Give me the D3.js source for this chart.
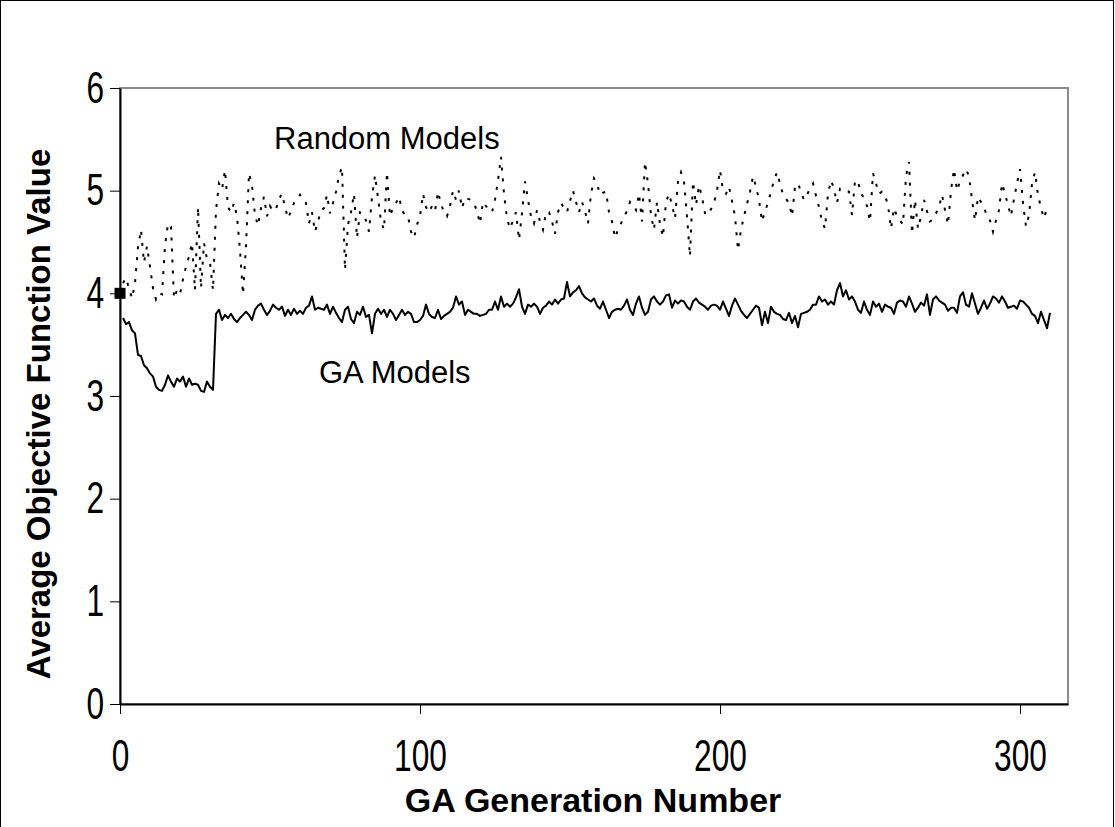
<!DOCTYPE html>
<html>
<head>
<meta charset="utf-8">
<style>
  body { margin: 0; background: #fff; }
  text { font-family: "Liberation Sans", Arial, sans-serif; fill: #000; }
</style>
</head>
<body>
<svg width="1115" height="827"></svg>
<script src="https://d3js.org/d3.v7.min.js"></script>
<script>

    // average objective value per GA generation, gens 1..310
    var gaModels = [
        3.76,3.70,3.72,3.64,3.61,3.40,3.39,3.30,3.27,3.22, 3.19,3.09,3.06,3.05,3.11,3.20,3.14,3.09,3.17,3.14,
        3.19,3.09,3.17,3.11,3.12,3.11,3.05,3.04,3.14,3.09, 3.06,
        3.80,3.84,3.74,3.79,3.76,3.80,3.75,3.72,3.76,3.79, 3.82,3.79,3.74,3.84,3.88,3.90,3.84,3.79,3.83,3.89,
        3.86,3.84,3.87,3.78,3.84,3.79,3.85,3.80,3.83,3.80, 3.86,3.88,3.97,3.84,3.86,3.85,3.84,3.89,3.80,3.87,
        3.81,3.76,3.72,3.84,3.87,3.75,3.71,3.82,3.79,3.87, 3.77,3.79,3.61,3.80,3.85,3.80,3.84,3.77,3.84,3.80,
        3.74,3.79,3.84,3.79,3.82,3.80,3.72,3.72,3.74,3.78, 3.89,3.80,3.77,3.76,
        3.84,3.75,3.78,3.80,3.82,3.86,3.97,3.89,3.92,3.79, 3.84,3.82,3.80,3.80,3.78,3.79,3.80,3.84,3.84,3.92,
        3.84,3.97,3.87,3.90,3.87,3.90,3.96,4.04,3.87,3.80, 3.89,3.87,3.90,3.87,3.80,3.86,3.88,3.92,3.89,3.94,
        3.90,3.94,3.95,4.11,3.97,4.01,4.03,4.07,4.00,3.96, 3.94,3.92,3.95,
        3.88,3.85,3.92,3.84,3.76,3.82,3.84,3.85,3.84,3.88, 3.94,3.84,3.79,3.90,3.97,3.86,3.79,3.82,3.94,3.97,
        3.92,3.89,3.92,3.98,3.99,3.86,3.93,3.90,3.93,3.92, 3.87,3.84,3.92,3.95,3.91,3.89,3.87,3.84,3.88,3.89,
        3.88,3.84,3.92,3.85,3.78,3.88,3.95,3.89,3.83,3.79, 3.76,3.80,3.84,
        3.88,3.86,3.69,3.82,3.71,3.87,3.82,3.80,3.79,3.75, 3.74,3.81,3.71,3.78,3.67,3.80,3.81,3.82,3.84,3.89,
        3.89,3.97,3.92,3.94,3.89,3.92,3.89,4.03,4.10,3.97, 4.03,3.94,3.97,3.92,3.84,3.81,3.92,3.84,3.79,3.92,
        3.87,3.90,3.82,3.89,3.87,3.86,3.80,3.91,3.93,3.92, 3.87,3.97,3.90,3.82,
        3.86,3.91,3.88,3.99,3.79,3.94,3.97,3.93,3.91,3.89, 3.83,3.86,3.86,3.81,3.97,4.01,3.89,3.87,4.00,3.90,
        3.80,3.86,3.93,3.85,3.90,3.97,3.95,3.91,3.97,3.92, 3.86,3.87,3.88,3.85,3.93,3.92,3.89,3.86,3.80,3.78,
        3.71,3.82,3.74,3.66,3.81
    ];

    var randomModels = [
        4.10,4.15,4.05,3.95,4.10,4.45,4.62,4.30,4.46,4.26, 4.05,3.94,4.00,3.99,4.46,4.68,4.65,3.95,4.03,3.99,
        4.14,4.26,4.36,4.49,4.03,4.84,4.05,4.49,4.33,4.30, 4.03,
        4.81,5.07,5.01,5.20,4.84,4.79,4.88,4.75,4.42,3.99, 4.46,5.17,5.05,4.76,4.66,4.83,4.94,4.75,4.85,4.80,
        4.82,4.92,4.97,4.84,4.73,4.80,4.88,4.92,4.96,4.90, 4.88,4.68,4.79,4.60,4.70,4.81,4.83,4.96,4.78,4.88,
        4.99,5.15,5.23,4.23,4.67,4.79,4.97,4.54,4.79,4.78, 4.71,4.60,4.94,5.15,4.93,4.70,4.62,5.18,4.75,4.83,
        4.88,4.94,4.81,4.76,4.75,4.60,4.54,4.67,4.75,4.97, 4.84,4.79,4.85,4.80,
        4.99,4.87,4.79,4.75,4.85,5.00,4.91,5.00,4.83,4.93, 4.92,4.91,4.88,4.80,4.68,4.89,4.85,4.81,4.79,4.91,
        5.10,5.33,4.97,4.73,4.63,4.71,4.79,4.52,4.78,5.09, 4.91,4.75,4.68,4.81,4.70,4.62,4.79,4.79,4.70,4.58,
        4.79,4.88,4.83,4.79,4.90,5.00,4.89,4.79,4.89,4.80, 4.68,4.97,5.12,
        5.07,4.96,4.98,4.99,4.79,4.70,4.54,4.62,4.68,4.75, 4.80,4.89,4.85,4.81,4.97,4.70,5.28,5.07,4.76,4.62,
        4.89,4.67,4.55,4.89,4.97,4.86,4.73,5.09,5.18,5.09, 4.75,4.36,5.09,4.86,5.05,4.94,4.78,4.76,4.82,4.88,
        5.00,5.20,5.00,4.97,5.04,4.90,4.75,4.42,4.62,4.75, 4.87,4.99,5.14,
        5.04,4.91,4.70,4.80,4.88,4.99,5.10,5.18,5.07,4.96, 4.92,4.88,4.75,5.04,5.07,4.99,4.91,4.96,5.02,5.07,
        4.95,4.84,4.70,4.63,4.97,5.10,5.02,4.88,5.02,5.02, 5.00,4.99,4.76,5.10,5.09,4.97,4.93,4.85,4.70,5.17,
        5.07,4.97,4.99,4.95,4.86,4.63,4.83,4.75,4.71,4.67, 5.14,5.28,4.58,4.91,
        4.63,4.75,4.91,4.80,4.70,4.72,4.78,4.84,4.96,4.81, 4.67,5.00,5.21,5.00,5.09,5.15,5.21,5.14,4.91,4.71,
        4.94,4.89,4.84,4.75,4.71,4.60,4.71,4.81,5.07,4.97, 4.86,4.75,4.92,5.07,5.21,4.88,4.65,4.76,5.07,5.18,
        4.96,4.83,4.73,4.83,4.81
    ];

    // the generation 0 starting value, shown as a single square
    var startPoint = [0, 4.0];

    var xTicks = [0, 100, 200, 300];
    var yTicks = [0, 1, 2, 3, 4, 5, 6];

    var svg = d3.select("svg"),
        margin = {top: 88, right: 47, bottom: 123, left: 120},
        width = +svg.attr("width") - margin.left - margin.right,
        height = +svg.attr("height") - margin.top - margin.bottom;

    // outer frame of the picture
    svg.append("rect")
        .attr("x", 0.5).attr("y", 0.5)
        .attr("width", 1113).attr("height", 840)
        .attr("fill", "none").attr("stroke", "#000").attr("stroke-width", 1);

    var g = svg.append("g").attr("transform", "translate(" + margin.left + "," + margin.top + ")");

    var x = d3.scaleLinear().domain([0, 316]).range([0, width]);
    var y = d3.scaleLinear().domain([0, 6]).range([height, 0]);

    // plot area border (grey top / right)
    g.append("rect")
        .attr("width", width).attr("height", height)
        .attr("fill", "none").attr("stroke", "#8c8c8c").attr("stroke-width", 2);

    var line = d3.line()
        .x(function (d, i) { return x(i + 1); })
        .y(function (d) { return y(d); });

    g.append("path")
        .datum(randomModels)
        .attr("d", line)
        .attr("fill", "none")
        .attr("stroke", "#000")
        .attr("stroke-width", 2)
        .attr("stroke-dasharray", "3,8");

    g.append("path")
        .datum(gaModels)
        .attr("d", line)
        .attr("fill", "none")
        .attr("stroke", "#000")
        .attr("stroke-width", 2)
        .attr("stroke-linejoin", "round");

    g.append("rect")
        .attr("x", x(startPoint[0]) - 5.5)
        .attr("y", y(startPoint[1]) - 5.5)
        .attr("width", 11).attr("height", 11)
        .attr("fill", "#000");

    // axes - tick labels are drawn tall and narrow like the original
    var sx = 0.72;

    var xAxis = g.append("g")
        .attr("transform", "translate(0," + height + ")")
        .call(d3.axisBottom(x).tickValues(xTicks).tickSize(10).tickSizeOuter(0).tickPadding(26));

    var yAxis = g.append("g")
        .call(d3.axisLeft(y).tickValues(yTicks).tickFormat(d3.format("d")).tickSize(10).tickSizeOuter(0).tickPadding(6));

    [xAxis, yAxis].forEach(function (ax) {
        ax.select(".domain").attr("stroke", "#000").attr("stroke-width", 2);
        ax.selectAll(".tick line").attr("stroke", "#000").attr("stroke-width", 1);
        ax.selectAll(".tick text")
            .attr("font-family", "Liberation Sans, Arial, sans-serif")
            .attr("font-size", 44)
            .attr("fill", "#000")
            .attr("transform", "scale(" + sx + ",1)");
    });
    yAxis.selectAll(".tick text").attr("x", -16 / sx);

    // annotations
    svg.append("text")
        .attr("x", 274).attr("y", 149)
        .attr("font-size", 31)
        .text("Random Models");

    svg.append("text")
        .attr("x", 319).attr("y", 383)
        .attr("font-size", 31)
        .text("GA Models");

    // axis titles
    svg.append("text")
        .attr("x", 593).attr("y", 812)
        .attr("text-anchor", "middle")
        .attr("font-size", 34)
        .attr("font-weight", "bold")
        .text("GA Generation Number");

    svg.append("text")
        .attr("transform", "translate(50,414) rotate(-90)")
        .attr("text-anchor", "middle")
        .attr("font-size", 33)
        .attr("font-weight", "bold")
        .text("Average Objective Function Value");

</script>
</body>
</html>
